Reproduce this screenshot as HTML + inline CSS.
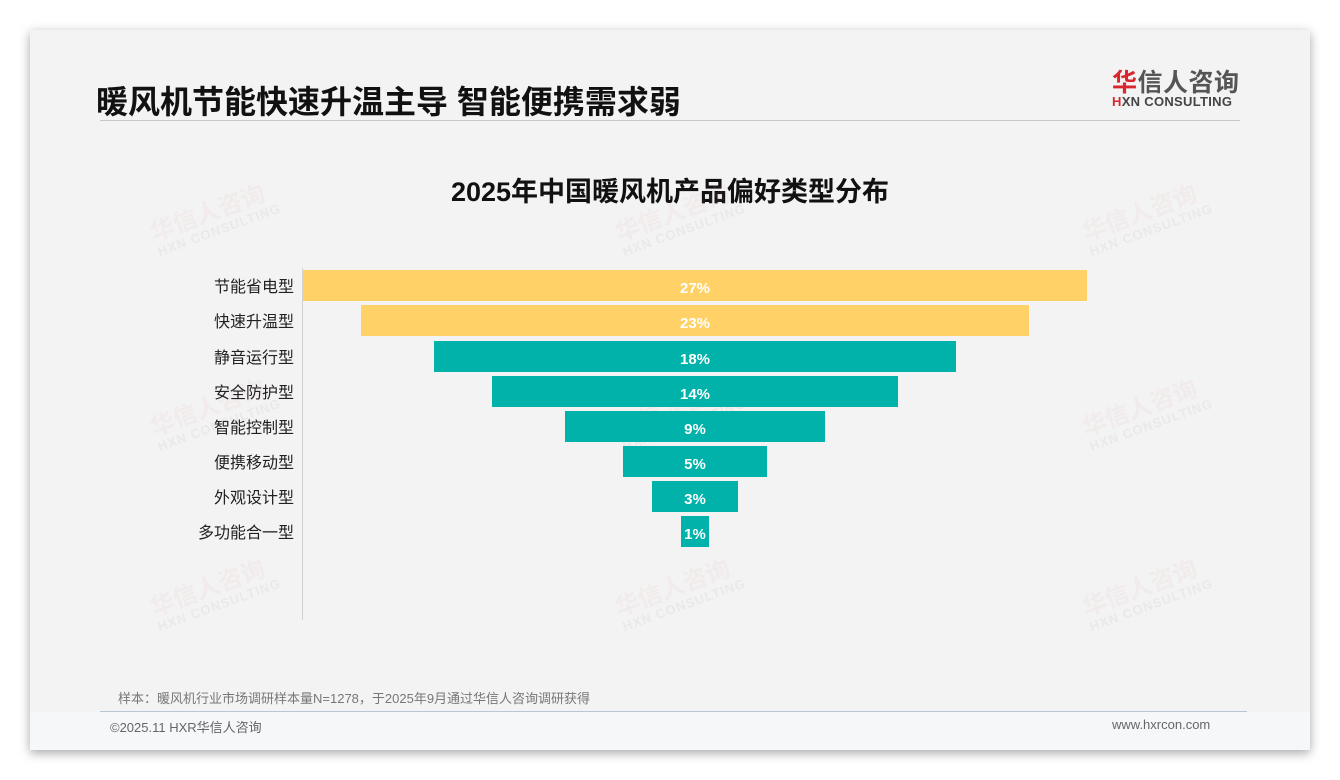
<!DOCTYPE html>
<html><head><meta charset="utf-8"><style>
*{margin:0;padding:0;box-sizing:border-box}
body{width:1340px;height:780px;background:#fff;position:relative;overflow:hidden;font-family:"Liberation Sans","Noto Sans CJK SC",sans-serif}
.card{position:absolute;left:30px;top:30px;width:1280px;height:720px;background:#f3f3f3;box-shadow:0 3px 10px rgba(0,0,0,.35)}
.foot{position:absolute;left:30px;top:712px;width:1280px;height:38px;background:#f6f7f9}
.abs{position:absolute;white-space:nowrap}
.bar{position:absolute;height:31px;color:#fff;font-weight:bold;font-size:15px;line-height:31px;padding-top:3px;text-align:center}
.y{background:#ffd166}.t{background:#00b2a9}
.lab{position:absolute;right:1046px;font-size:16px;color:#222;line-height:31px;padding-top:2px;white-space:nowrap}
.wm{position:absolute;color:rgba(225,150,150,.09);font-size:24px;font-weight:bold;transform:rotate(-20deg);white-space:nowrap;line-height:1}
.wm span{display:block;font-size:13px;color:rgba(150,150,150,.1);letter-spacing:1px}
</style></head><body>
<div class="card"></div>
<div class="foot"></div>
<div class="abs" style="left:96px;top:77px;font-size:32px;font-weight:bold;color:#111">暖风机节能快速升温主导 智能便携需求弱</div>
<div class="abs" style="left:100px;top:120px;width:1140px;height:1px;background:#c8c8c8"></div>
<div class="abs" style="left:1112px;top:63px;font-size:25px;color:#555;font-weight:bold;letter-spacing:.5px"><span style="color:#d9262c">华</span>信人咨询</div>
<div class="abs" style="left:1112px;top:94px;font-size:13px;color:#444;font-weight:bold;letter-spacing:.3px"><span style="color:#d9262c">H</span>XN CONSULTING</div>
<div class="abs" style="left:0;width:1340px;text-align:center;top:170px;font-size:27px;font-weight:bold;color:#111">2025年中国暖风机产品偏好类型分布</div>
<div class="wm" style="left:150px;top:200px">华信人咨询<span>HXN CONSULTING</span></div>
<div class="wm" style="left:615px;top:200px">华信人咨询<span>HXN CONSULTING</span></div>
<div class="wm" style="left:1082px;top:200px">华信人咨询<span>HXN CONSULTING</span></div>
<div class="wm" style="left:150px;top:395px">华信人咨询<span>HXN CONSULTING</span></div>
<div class="wm" style="left:615px;top:395px">华信人咨询<span>HXN CONSULTING</span></div>
<div class="wm" style="left:1082px;top:395px">华信人咨询<span>HXN CONSULTING</span></div>
<div class="wm" style="left:150px;top:575px">华信人咨询<span>HXN CONSULTING</span></div>
<div class="wm" style="left:615px;top:575px">华信人咨询<span>HXN CONSULTING</span></div>
<div class="wm" style="left:1082px;top:575px">华信人咨询<span>HXN CONSULTING</span></div>
<div class="abs" style="left:302px;top:268px;width:1px;height:352px;background:#d0d0d0"></div>
<div class="lab" style="top:270px">节能省电型</div>
<div class="lab" style="top:305px">快速升温型</div>
<div class="lab" style="top:341px">静音运行型</div>
<div class="lab" style="top:376px">安全防护型</div>
<div class="lab" style="top:411px">智能控制型</div>
<div class="lab" style="top:446px">便携移动型</div>
<div class="lab" style="top:481px">外观设计型</div>
<div class="lab" style="top:516px">多功能合一型</div>
<div class="bar y" style="top:270px;left:303px;width:784px">27%</div>
<div class="bar y" style="top:305px;left:361px;width:668px">23%</div>
<div class="bar t" style="top:341px;left:434px;width:522px">18%</div>
<div class="bar t" style="top:376px;left:492px;width:406px">14%</div>
<div class="bar t" style="top:411px;left:565px;width:260px">9%</div>
<div class="bar t" style="top:446px;left:623px;width:144px">5%</div>
<div class="bar t" style="top:481px;left:652px;width:86px">3%</div>
<div class="bar t" style="top:516px;left:681px;width:28px">1%</div>
<div class="abs" style="left:118px;top:688px;font-size:13px;color:#777">样本：暖风机行业市场调研样本量N=1278，于2025年9月通过华信人咨询调研获得</div>
<div class="abs" style="left:100px;top:711px;width:1147px;height:1px;background:#b8c6d6"></div>
<div class="abs" style="left:110px;top:717px;font-size:13px;color:#666">©2025.11 HXR华信人咨询</div>
<div class="abs" style="left:1112px;top:717px;font-size:13px;color:#666">www.hxrcon.com</div>
</body></html>
